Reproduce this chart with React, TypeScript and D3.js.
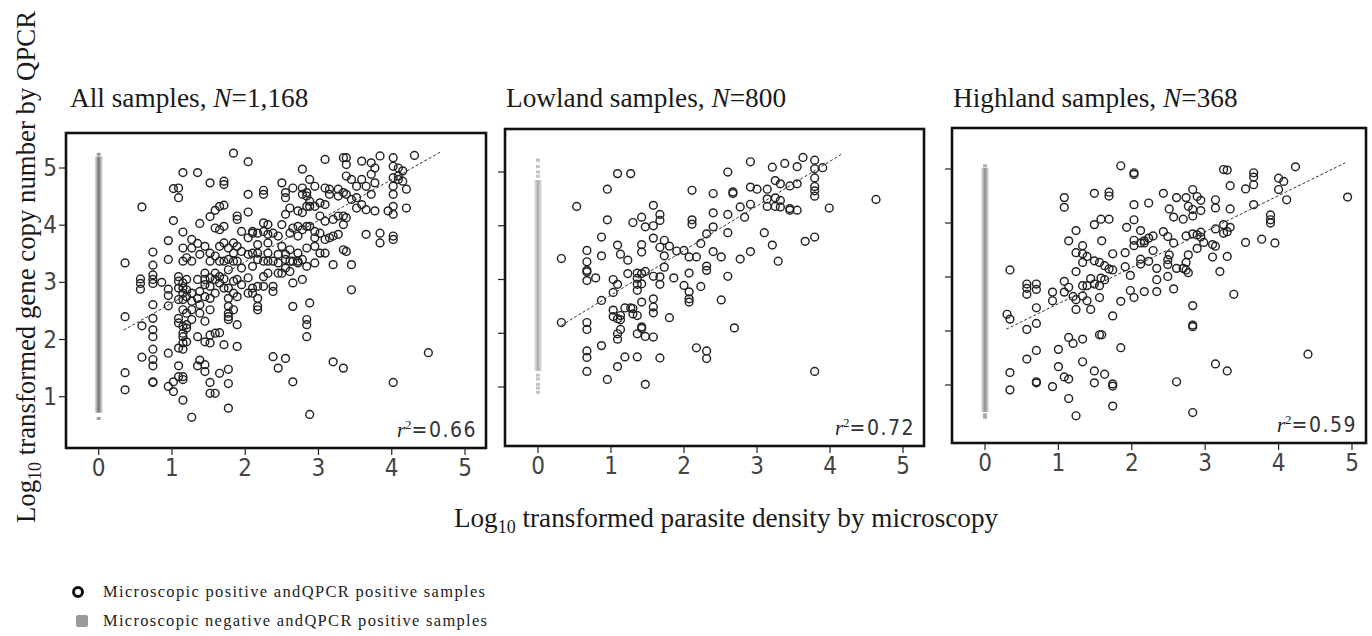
import * as d3 from "d3";

type Pt = [number, number];

// microscopic positive & QPCR positive samples, [log10 parasite density, log10 copy number]
const allPos: Pt[] = [
  [0.36, 3.34], [0.36, 2.4], [0.36, 1.42], [0.36, 1.12],
  [0.59, 4.32], [0.59, 2.24], [0.59, 1.69],
  [0.57, 3.06], [0.57, 2.98], [0.57, 2.88],
  [0.74, 3.53], [0.74, 3.3], [0.74, 3.13], [0.74, 3.05], [0.74, 2.98], [0.74, 2.61], [0.74, 2.37], [0.74, 2.17], [0.74, 2.05], [0.74, 1.83], [0.74, 1.65], [0.74, 1.54], [0.74, 1.26], [0.74, 1.25],
  [0.86, 3.0],
  [0.95, 3.73], [0.95, 3.4], [0.95, 2.88], [0.95, 2.77], [0.95, 2.59], [0.95, 1.76], [0.95, 1.18],
  [1.02, 4.08], [1.02, 4.64], [1.02, 1.26], [1.02, 1.09],
  [1.09, 4.65], [1.09, 4.48], [1.09, 3.1], [1.09, 3.02], [1.09, 2.9], [1.09, 2.7], [1.09, 2.37], [1.09, 2.29], [1.09, 1.85], [1.09, 1.54], [1.09, 1.35],
  [1.15, 4.92], [1.15, 3.88], [1.15, 3.6], [1.15, 3.37], [1.15, 2.99], [1.15, 2.9], [1.15, 2.81], [1.15, 2.7], [1.15, 2.52], [1.15, 2.23], [1.15, 2.11], [1.15, 2.05], [1.15, 1.94], [1.15, 1.83], [1.15, 1.35], [1.15, 1.3], [1.15, 0.94],
  [1.2, 3.43], [1.2, 3.05], [1.2, 2.87], [1.2, 2.75], [1.2, 2.46], [1.2, 2.26], [1.2, 2.2], [1.2, 1.96],
  [1.27, 3.75], [1.27, 3.6], [1.27, 3.37], [1.27, 2.81], [1.27, 2.67], [1.27, 2.52], [1.27, 2.35], [1.27, 0.64],
  [1.35, 4.92], [1.35, 3.68], [1.35, 3.05], [1.35, 2.72], [1.35, 2.05], [1.35, 1.54],
  [1.38, 4.03], [1.38, 3.49], [1.38, 2.84], [1.38, 2.61], [1.38, 2.46], [1.38, 1.64],
  [1.45, 3.63], [1.45, 3.16], [1.45, 3.05], [1.45, 2.96], [1.45, 2.75], [1.45, 2.32], [1.45, 1.96], [1.45, 1.56], [1.45, 1.44],
  [1.52, 4.74], [1.52, 4.15], [1.52, 3.51], [1.52, 3.37], [1.52, 3.08], [1.52, 2.93], [1.52, 2.72], [1.52, 2.52], [1.52, 2.08], [1.52, 1.94], [1.52, 1.25], [1.52, 1.06],
  [1.59, 4.26], [1.59, 3.95], [1.59, 3.46], [1.59, 3.16], [1.59, 3.05], [1.59, 2.81], [1.59, 2.11], [1.59, 1.06],
  [1.65, 4.33], [1.65, 3.92], [1.65, 3.63], [1.65, 3.37], [1.65, 3.1], [1.65, 2.99], [1.65, 2.12], [1.65, 1.41],
  [1.71, 4.77], [1.71, 4.71], [1.71, 4.35], [1.71, 3.98], [1.71, 3.69], [1.71, 3.37], [1.71, 3.06], [1.71, 2.9], [1.71, 1.91],
  [1.77, 3.6], [1.77, 3.4], [1.77, 3.22], [1.77, 2.9], [1.77, 2.72], [1.77, 2.58], [1.77, 2.46], [1.77, 2.4], [1.77, 2.35], [1.77, 1.48], [1.77, 1.23], [1.77, 0.8],
  [1.84, 5.26], [1.84, 3.69], [1.84, 3.51], [1.84, 3.37], [1.84, 3.02], [1.84, 2.81], [1.84, 2.52],
  [1.89, 4.16], [1.89, 4.1], [1.89, 3.63], [1.89, 3.37], [1.89, 3.05], [1.89, 2.75], [1.89, 2.26], [1.89, 1.88],
  [1.95, 3.89], [1.95, 3.54], [1.95, 3.25], [1.95, 2.96],
  [2.04, 5.11], [2.04, 4.54], [2.04, 4.23], [2.04, 3.78], [2.04, 3.49], [2.04, 3.08], [2.04, 2.81],
  [2.1, 3.89], [2.1, 3.86], [2.1, 3.51], [2.1, 3.28], [2.1, 2.9], [2.1, 2.81],
  [2.17, 3.86], [2.17, 3.66], [2.17, 3.51], [2.17, 3.4], [2.17, 2.93], [2.17, 2.72], [2.17, 2.58], [2.17, 2.52],
  [2.25, 4.61], [2.25, 4.54], [2.25, 4.04], [2.25, 3.89], [2.25, 3.37], [2.25, 3.1], [2.25, 2.93],
  [2.31, 4.01], [2.31, 3.84], [2.31, 3.69], [2.31, 3.51], [2.31, 3.37], [2.31, 3.16],
  [2.38, 3.86], [2.38, 3.37], [2.38, 2.93], [2.38, 2.84], [2.38, 1.7],
  [2.45, 3.81], [2.45, 3.49], [2.45, 3.34], [2.45, 3.16], [2.45, 1.5],
  [2.5, 4.74], [2.5, 4.01], [2.5, 3.63], [2.5, 3.16],
  [2.55, 4.57], [2.55, 4.48], [2.55, 4.19], [2.55, 3.49], [2.55, 3.4], [2.55, 3.25], [2.55, 1.67],
  [2.61, 4.3], [2.61, 3.86], [2.61, 3.57], [2.61, 3.37], [2.61, 3.19],
  [2.65, 4.65], [2.65, 3.95], [2.65, 3.37], [2.65, 2.99], [2.65, 2.58], [2.65, 1.26],
  [2.72, 4.25], [2.72, 3.98], [2.72, 3.81], [2.72, 3.51], [2.72, 3.37], [2.72, 3.34],
  [2.78, 4.98], [2.78, 4.65], [2.78, 4.54], [2.78, 4.22], [2.78, 3.92], [2.78, 3.4], [2.78, 3.05],
  [2.84, 4.57], [2.84, 4.51], [2.84, 4.33], [2.84, 3.98], [2.84, 3.6], [2.84, 3.28], [2.84, 2.35], [2.84, 2.26], [2.84, 2.05],
  [2.88, 4.8], [2.88, 4.42], [2.88, 4.33], [2.88, 3.98], [2.88, 2.64], [2.88, 0.69],
  [2.95, 4.68], [2.95, 4.33], [2.95, 3.89], [2.95, 3.78], [2.95, 3.63], [2.95, 3.34],
  [3.02, 4.39], [3.02, 4.16], [3.02, 3.86], [3.02, 3.51],
  [3.09, 5.15], [3.09, 4.65], [3.09, 4.36], [3.09, 4.07], [3.09, 3.75], [3.09, 3.51],
  [3.15, 4.63], [3.15, 4.54], [3.15, 3.78],
  [3.2, 4.1], [3.2, 3.81], [3.2, 3.31], [3.2, 1.61],
  [3.27, 4.63], [3.27, 4.51], [3.27, 4.16], [3.27, 3.84],
  [3.34, 5.18], [3.34, 4.57], [3.34, 4.16], [3.34, 4.01], [3.34, 3.57], [3.34, 1.5],
  [3.38, 5.18], [3.38, 5.06], [3.38, 4.86], [3.38, 4.54], [3.38, 4.13], [3.38, 3.54],
  [3.45, 4.8], [3.45, 4.45], [3.45, 3.31], [3.45, 2.87],
  [3.52, 4.68], [3.52, 4.48], [3.52, 4.3],
  [3.59, 5.12], [3.59, 4.8], [3.59, 4.36],
  [3.65, 4.68], [3.65, 4.27], [3.65, 3.84],
  [3.72, 5.09], [3.72, 4.89], [3.72, 4.54],
  [3.77, 5.0], [3.77, 4.74], [3.77, 4.25],
  [3.84, 5.21], [3.84, 3.86], [3.84, 3.69],
  [3.95, 4.25],
  [4.02, 5.18], [4.02, 5.03], [4.02, 4.83], [4.02, 4.68], [4.02, 4.54], [4.02, 4.33], [4.02, 4.19], [4.02, 3.81], [4.02, 3.75], [4.02, 1.25],
  [4.09, 5.0], [4.09, 4.86], [4.09, 4.8],
  [4.15, 4.95], [4.15, 4.77],
  [4.2, 4.63], [4.2, 4.3],
  [4.31, 5.22],
  [4.5, 1.77],
];

const lowPos: Pt[] = [
  [0.32, 3.39], [0.53, 4.36], [0.32, 2.2],
  [0.67, 3.54], [0.67, 3.33], [0.67, 3.17], [0.67, 3.14], [0.67, 2.98], [0.67, 2.2], [0.67, 2.07], [0.67, 1.67], [0.67, 1.55], [0.67, 1.29],
  [0.79, 3.03],
  [0.87, 3.79], [0.87, 3.44], [0.87, 2.61], [0.87, 1.77],
  [0.95, 4.68], [0.95, 4.11], [0.95, 1.14],
  [1.03, 3.0], [1.03, 2.76], [1.03, 2.43], [1.03, 2.31],
  [1.09, 4.97], [1.09, 3.64], [1.09, 2.91], [1.09, 2.27], [1.09, 1.99], [1.09, 1.89], [1.09, 1.38],
  [1.13, 3.47], [1.13, 2.33], [1.13, 2.25], [1.13, 2.07],
  [1.19, 2.47], [1.19, 1.56],
  [1.23, 3.36], [1.23, 3.11],
  [1.27, 4.97], [1.27, 2.47],
  [1.3, 4.06], [1.3, 2.46], [1.3, 2.36],
  [1.36, 3.12], [1.36, 3.02], [1.36, 2.91], [1.36, 2.8], [1.36, 2.33], [1.36, 1.99], [1.36, 1.56],
  [1.42, 4.16], [1.42, 3.65], [1.42, 3.51], [1.42, 3.11], [1.42, 2.92], [1.42, 2.58], [1.42, 2.12], [1.42, 2.09],
  [1.47, 3.98], [1.47, 3.15], [1.47, 1.94], [1.47, 1.05],
  [1.58, 4.38], [1.58, 4.0], [1.58, 3.77], [1.58, 3.06], [1.58, 2.64], [1.58, 2.49], [1.58, 2.38], [1.58, 1.93],
  [1.67, 4.21], [1.67, 4.1], [1.67, 3.6], [1.67, 3.05], [1.67, 2.91], [1.67, 1.54],
  [1.73, 3.73], [1.73, 3.44], [1.73, 3.23],
  [1.8, 3.62], [1.8, 2.29],
  [1.86, 3.03], [1.9, 3.53],
  [2.0, 3.54], [2.0, 2.89],
  [2.07, 3.42], [2.07, 3.12], [2.07, 2.77], [2.07, 2.64], [2.07, 2.58],
  [2.11, 4.66], [2.11, 4.11], [2.11, 4.03],
  [2.17, 3.42], [2.17, 1.73],
  [2.23, 3.67], [2.23, 2.87],
  [2.31, 3.85], [2.31, 3.25], [2.31, 3.17], [2.31, 1.53], [2.31, 1.67],
  [2.4, 4.6], [2.4, 4.24], [2.4, 3.98], [2.4, 3.52],
  [2.51, 3.42], [2.51, 2.62],
  [2.6, 5.0], [2.6, 4.21], [2.6, 3.87], [2.6, 3.06],
  [2.67, 4.63], [2.67, 4.6], [2.69, 2.1],
  [2.77, 4.35], [2.77, 3.38], [2.83, 4.16],
  [2.91, 5.19], [2.91, 4.72], [2.91, 4.4], [2.91, 3.52],
  [3.0, 4.68], [3.1, 3.87],
  [3.14, 4.68], [3.14, 4.5], [3.14, 4.36],
  [3.21, 5.09], [3.21, 3.64],
  [3.25, 4.84], [3.25, 4.52], [3.25, 4.36],
  [3.29, 3.34],
  [3.32, 4.78], [3.32, 4.47], [3.32, 4.35],
  [3.38, 5.16],
  [3.45, 4.74], [3.45, 4.32], [3.45, 4.29],
  [3.55, 5.1], [3.55, 4.78], [3.55, 4.29],
  [3.63, 5.27], [3.66, 3.71],
  [3.79, 5.22], [3.79, 5.06], [3.79, 4.89], [3.79, 4.73], [3.79, 4.65], [3.79, 4.55], [3.79, 3.79], [3.79, 1.29],
  [3.9, 5.08], [3.99, 4.33], [4.63, 4.49],
];

const highPos: Pt[] = [
  [0.3, 2.31],
  [0.34, 3.13], [0.34, 2.22], [0.34, 1.23], [0.34, 0.91],
  [0.57, 2.87], [0.57, 2.79], [0.57, 2.68], [0.57, 2.03], [0.57, 1.48],
  [0.7, 2.87], [0.7, 2.77], [0.7, 2.43], [0.7, 2.14], [0.7, 1.64], [0.7, 1.06], [0.7, 1.04],
  [0.92, 2.72], [0.92, 2.56], [0.92, 0.97],
  [1.0, 1.66], [1.0, 1.34],
  [1.08, 4.47], [1.08, 4.29], [1.08, 2.92], [1.08, 2.72], [1.08, 1.15],
  [1.14, 3.67], [1.14, 2.81], [1.14, 1.88], [1.14, 1.11], [1.14, 0.75],
  [1.2, 2.64], [1.2, 1.77],
  [1.24, 3.86], [1.24, 3.45], [1.24, 3.1], [1.24, 2.58], [1.24, 2.4], [1.24, 0.43],
  [1.33, 3.58], [1.33, 3.43], [1.33, 3.27], [1.33, 2.84], [1.33, 2.65], [1.33, 1.85], [1.33, 1.43],
  [1.39, 3.38], [1.39, 2.84], [1.39, 2.56],
  [1.44, 2.97], [1.44, 2.4],
  [1.49, 4.55], [1.49, 3.97], [1.49, 3.3], [1.49, 2.87], [1.49, 1.26], [1.49, 1.04],
  [1.56, 3.27], [1.56, 2.84], [1.56, 2.62], [1.56, 1.93],
  [1.58, 4.07], [1.58, 2.98], [1.59, 3.67], [1.59, 1.93],
  [1.63, 3.21], [1.63, 2.95], [1.63, 1.2],
  [1.69, 4.57], [1.69, 4.5], [1.69, 4.07], [1.69, 3.15],
  [1.74, 3.43], [1.74, 3.13], [1.74, 2.28], [1.74, 1.02], [1.74, 0.98], [1.74, 0.61],
  [1.85, 5.06], [1.85, 2.55], [1.85, 1.69],
  [1.91, 3.45], [1.91, 3.19], [1.93, 3.92],
  [1.98, 3.03], [1.98, 2.75],
  [2.03, 4.93], [2.03, 4.9], [2.03, 4.34], [2.03, 4.06], [2.03, 3.68], [2.03, 3.58], [2.03, 2.62],
  [2.12, 3.86], [2.12, 3.63], [2.12, 3.33], [2.12, 3.24],
  [2.17, 3.67], [2.17, 3.63], [2.17, 2.73],
  [2.23, 4.37], [2.23, 3.72], [2.23, 3.29],
  [2.29, 3.76], [2.29, 3.49],
  [2.34, 3.16], [2.34, 2.95], [2.34, 2.73],
  [2.43, 4.55], [2.43, 3.84],
  [2.49, 3.75], [2.49, 3.32], [2.49, 3.23], [2.49, 3.01],
  [2.51, 4.26], [2.51, 3.41],
  [2.57, 4.11], [2.57, 3.63], [2.57, 2.78],
  [2.61, 4.47], [2.61, 3.16], [2.61, 1.06],
  [2.7, 4.07], [2.7, 3.16],
  [2.74, 4.47], [2.74, 3.76], [2.74, 3.27], [2.74, 3.13],
  [2.77, 4.31], [2.77, 3.41], [2.77, 3.08],
  [2.83, 4.62], [2.83, 4.25], [2.83, 4.13], [2.83, 3.8], [2.83, 2.47], [2.83, 2.11], [2.83, 2.08], [2.83, 0.49],
  [2.89, 4.49], [2.89, 3.78], [2.89, 3.53],
  [2.94, 4.42], [2.94, 4.23], [2.94, 3.83], [2.94, 3.74],
  [2.98, 3.64],
  [3.1, 3.6], [3.1, 3.37],
  [3.14, 4.43], [3.14, 4.28], [3.14, 3.89], [3.14, 3.57], [3.14, 1.39],
  [3.2, 3.1],
  [3.25, 4.99], [3.25, 3.97], [3.25, 3.81],
  [3.3, 4.98], [3.3, 3.84], [3.3, 3.38], [3.3, 1.26],
  [3.34, 4.69], [3.34, 4.26], [3.34, 3.92],
  [3.39, 2.68],
  [3.55, 4.63], [3.55, 3.64],
  [3.66, 4.93], [3.66, 4.85], [3.66, 4.71], [3.66, 4.34],
  [3.77, 3.7],
  [3.89, 4.15], [3.89, 4.06], [3.89, 4.0],
  [3.95, 3.63],
  [4.0, 4.83], [4.0, 4.62],
  [4.07, 4.77], [4.11, 4.43],
  [4.23, 5.04], [4.4, 1.57], [4.94, 4.48],
];

const titles = ["All samples, ", "Lowland samples, ", "Highland samples, "];
const sampleN = ["1,168", "800", "368"];
const r2 = ["0.66", "0.72", "0.59"];
const fitSlope = [0.72, 0.83, 0.667];
const fitIntercept = [1.92, 1.88, 1.84];
const fitExtent: Pt[] = [[0.34, 4.68], [0.32, 4.16], [0.29, 4.91]];

// microscopic negative & QPCR positive samples all sit at x = 0
const negBand: Pt[] = [[0.72, 5.2], [1.3, 4.85], [0.5, 5.02]];
const negTails = [
  [0.62, 5.24],
  [0.9, 0.98, 1.05, 1.15, 1.22, 4.92, 5.0, 5.1, 5.22],
  [0.4, 0.45, 5.06],
];
const negShade = ["#707070", "#a8a8a8", "#8a8a8a"];

const xTicks = [0, 1, 2, 3, 4, 5];
const yTicks = [1, 2, 3, 4, 5];

const panelData = [allPos, lowPos, highPos];

// layout: box edges and where tick 0/5 and 1/5 land
const boxes = [
  { l: 66, t: 133, r: 486, b: 448, x0: 98.7, x5: 465, y1: 396.7, y5: 168 },
  { l: 505, t: 129, r: 924, b: 446, x0: 538, x5: 903, y1: 387, y5: 172 },
  { l: 952, t: 128, r: 1366, b: 443, x0: 985, x5: 1352, y1: 385, y5: 169 },
];

const serif = "'Liberation Serif', 'Times New Roman', serif";
const narrow = "'Liberation Sans Narrow', 'DejaVu Sans Condensed', 'Liberation Sans', sans-serif";

function Panel({ i }: { i: number }) {
  const b = boxes[i];
  const x = d3.scaleLinear().domain([0, 5]).range([b.x0, b.x5]);
  const y = d3.scaleLinear().domain([1, 5]).range([b.y1, b.y5]);
  const fit = d3.line<number>()
    .x(d => x(d))
    .y(d => y(fitIntercept[i] + fitSlope[i] * d));
  const gid = `neg${i}`;

  return (
    <g>
      <defs>
        <linearGradient id={gid} x1="0" x2="1" y1="0" y2="0">
          <stop offset="0" stopColor={negShade[i]} stopOpacity={0.15} />
          <stop offset="0.5" stopColor={negShade[i]} stopOpacity={1} />
          <stop offset="1" stopColor={negShade[i]} stopOpacity={0.15} />
        </linearGradient>
      </defs>
      <text x={b.l + (i === 0 ? 4 : 1)} y={107} fontFamily={serif} fontSize={27.3} fill="#1a1a1a">
        {titles[i]}
        <tspan fontStyle="italic">N</tspan>={sampleN[i]}
      </text>
      <rect x={b.l} y={b.t} width={b.r - b.l} height={b.b - b.t} fill="#fff" stroke="#111" strokeWidth={2.6} />

      <rect
        x={x(0) - 4}
        y={y(negBand[i][1])}
        width={8}
        height={y(negBand[i][0]) - y(negBand[i][1])}
        fill={`url(#${gid})`}
      />
      {negTails[i].map((v, k) => (
        <rect key={k} x={x(0) - 2} y={y(v) - 1.5} width={4} height={3} fill={negShade[i]} opacity={0.7} />
      ))}

      {panelData[i].map((d, k) => (
        <circle key={k} cx={x(d[0])} cy={y(d[1])} r={3.9} fill="none" stroke="#222" strokeWidth={1.45} />
      ))}

      <path d={fit(fitExtent[i]) ?? ""} fill="none" stroke="#333" strokeWidth={1} strokeDasharray="3,2" />

      <text x={b.r - 9} y={b.b - 11} textAnchor="end" fontSize={21} fill="#222">
        <tspan fontFamily={serif} fontStyle="italic">r</tspan>
        <tspan fontFamily={serif} fontSize={13} dy={-8}>2</tspan>
        <tspan fontFamily={narrow} dy={8} fill="#333" letterSpacing={1.5}>={r2[i]}</tspan>
      </text>

      {xTicks.map(t => (
        <g key={t}>
          <line x1={x(t)} x2={x(t)} y1={b.b} y2={b.b + 7} stroke="#222" strokeWidth={1.2} />
          <text x={x(t)} y={b.b + 28} textAnchor="middle" fontFamily={narrow} fontSize={24} fill="#444">
            {t}
          </text>
        </g>
      ))}
      {yTicks.map(t => (
        <g key={t}>
          <line x1={b.l - 7} x2={b.l} y1={y(t)} y2={y(t)} stroke="#222" strokeWidth={1.2} />
          {i === 0 && (
            <text x={b.l - 9} y={y(t) + 8} textAnchor="end" fontFamily={narrow} fontSize={24} fill="#444">
              {t}
            </text>
          )}
        </g>
      ))}
    </g>
  );
}

export default function App() {
  return (
    <svg
      width={1372}
      height={636}
      style={{ position: "absolute", left: 0, top: 0, background: "#fff" }}
    >
      {[0, 1, 2].map(i => <Panel key={i} i={i} />)}

      <text transform="translate(35,267) rotate(-90)" textAnchor="middle" fontFamily={serif} fontSize={26.8} fill="#1a1a1a">
        Log<tspan fontSize={18} dy={6}>10</tspan>
        <tspan dy={-6}> transformed gene copy number by QPCR</tspan>
      </text>
      <text x={726} y={527} textAnchor="middle" fontFamily={serif} fontSize={27.2} fill="#1a1a1a">
        Log<tspan fontSize={18} dy={6}>10</tspan>
        <tspan dy={-6}> transformed parasite density by microscopy</tspan>
      </text>

      <circle cx={78} cy={592} r={4.5} fill="none" stroke="#111" strokeWidth={3} />
      <text x={103} y={597} fontFamily={serif} fontSize={16.5} fill="#222" textLength={382} lengthAdjust="spacing">
        Microscopic positive andQPCR positive samples
      </text>
      <rect x={76} y={615} width={12} height={12} rx={2} fill="#9a9a9a" />
      <text x={103} y={626} fontFamily={serif} fontSize={16.5} fill="#222" textLength={384} lengthAdjust="spacing">
        Microscopic negative andQPCR positive samples
      </text>
    </svg>
  );
}
